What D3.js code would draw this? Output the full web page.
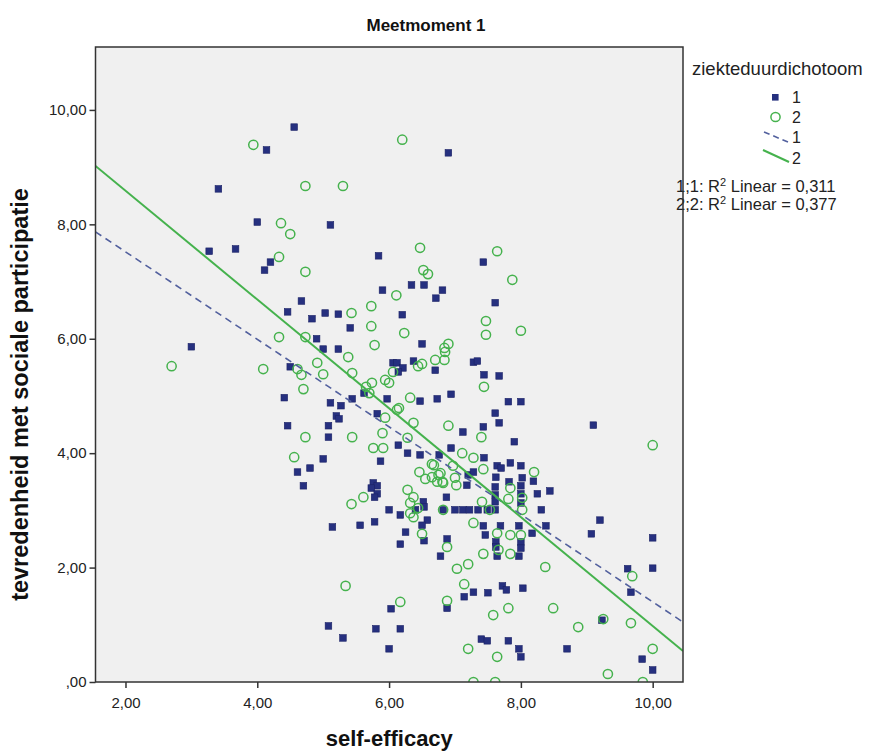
<!DOCTYPE html>
<html>
<head>
<meta charset="utf-8">
<script src="https://cdn.jsdelivr.net/npm/d3@7"></script>
<style>
  body { margin: 0; background: #fff; }
  svg { font-family: "Liberation Sans", Arial, sans-serif; }
</style>
</head>
<body>
<svg id="chart" width="874" height="751"></svg>
<script>
// ziekteduurdichotoom = 1 (blue squares)
const group1Points = [
  [4.56, 9.70], [4.14, 9.30], [6.90, 9.25], [3.41, 8.62], [4.00, 8.04], [5.11, 7.99],
  [3.27, 7.53], [3.67, 7.57], [4.20, 7.34], [4.11, 7.20], [5.84, 7.45], [5.90, 6.85],
  [7.43, 7.34], [4.67, 6.66], [4.46, 6.47], [5.03, 6.45], [5.23, 6.43], [4.83, 6.35],
  [5.41, 6.19], [4.90, 6.00], [3.00, 5.86], [5.00, 5.82], [5.23, 5.82], [6.34, 6.94],
  [6.53, 6.94], [6.81, 6.85], [6.71, 6.71], [7.61, 6.63], [6.20, 6.42], [6.50, 5.91],
  [4.50, 5.51], [6.06, 5.58], [5.62, 5.05], [4.41, 4.97], [5.11, 4.88], [5.27, 4.83],
  [5.44, 4.95], [5.97, 4.95], [5.20, 4.65], [5.24, 4.60], [5.82, 4.69], [4.46, 4.48],
  [5.08, 4.48], [5.08, 4.28], [5.00, 3.90], [5.87, 3.86], [4.80, 3.74], [4.61, 3.67],
  [4.70, 3.43], [5.76, 3.48], [5.82, 3.43], [5.73, 3.39], [5.82, 3.29], [5.78, 3.23],
  [6.00, 3.01], [5.14, 2.71], [5.56, 2.74], [5.78, 2.80], [6.03, 1.28], [5.08, 0.98],
  [5.30, 0.77], [5.80, 0.93], [6.00, 0.58], [6.37, 5.61], [6.12, 5.58], [6.21, 5.49],
  [6.14, 5.42], [6.70, 5.45], [7.28, 5.59], [7.34, 5.61], [7.44, 5.37], [7.67, 5.35],
  [6.94, 5.03], [6.47, 4.91], [6.73, 4.95], [7.81, 4.90], [8.00, 4.90], [7.61, 4.70],
  [7.67, 4.53], [7.43, 4.46], [7.12, 4.37], [7.90, 4.20], [9.10, 4.49], [6.14, 4.14],
  [6.28, 4.00], [6.47, 3.97], [6.94, 4.09], [6.76, 3.97], [7.44, 3.92], [7.64, 3.78],
  [7.70, 3.74], [7.84, 3.83], [8.00, 3.78], [7.20, 3.62], [7.28, 3.67], [7.18, 3.44],
  [7.62, 3.58], [7.61, 3.41], [7.82, 3.50], [8.02, 3.57], [8.00, 3.43], [8.19, 3.51],
  [8.44, 3.34], [8.25, 3.29], [7.61, 3.27], [8.00, 3.29], [6.87, 3.23], [7.61, 3.15],
  [8.00, 3.13], [6.52, 3.15], [6.53, 3.06], [6.40, 3.01], [6.17, 2.92], [6.82, 3.01],
  [7.00, 3.01], [7.12, 3.01], [7.22, 3.01], [7.35, 3.01], [7.49, 3.01], [7.61, 3.01],
  [8.31, 3.01], [7.43, 2.73], [7.69, 2.73], [7.97, 2.73], [7.46, 2.57], [8.17, 2.60],
  [8.38, 2.73], [6.58, 2.83], [6.50, 2.74], [6.25, 2.62], [6.17, 2.41], [6.53, 2.47],
  [6.88, 2.50], [7.62, 2.45], [7.62, 2.36], [8.00, 2.45], [8.00, 2.34], [7.97, 2.20],
  [6.78, 2.20], [7.64, 2.20], [9.20, 2.83], [9.07, 2.59], [10.00, 2.52], [10.00, 1.99],
  [9.62, 1.98], [9.67, 1.57], [6.88, 1.29], [7.14, 1.49], [7.28, 1.57], [7.50, 1.56],
  [7.72, 1.68], [7.78, 1.61], [8.03, 1.64], [6.17, 0.93], [9.23, 1.08], [7.40, 0.75],
  [7.49, 0.72], [7.81, 0.72], [7.97, 0.58], [8.00, 0.44], [8.70, 0.58], [9.84, 0.40],
  [10.00, 0.21]
];

// ziekteduurdichotoom = 2 (green circles)
const group2Points = [
  [3.94, 9.39], [6.20, 9.48], [4.73, 8.67], [5.30, 8.67], [4.36, 8.02], [4.50, 7.83],
  [4.33, 7.43], [4.73, 7.17], [6.47, 7.59], [7.64, 7.53], [6.52, 7.20], [6.59, 7.13],
  [7.87, 7.03], [6.11, 6.76], [5.73, 6.57], [5.43, 6.45], [5.73, 6.22], [7.47, 6.31],
  [7.47, 6.07], [8.00, 6.14], [6.23, 6.10], [4.33, 6.03], [4.73, 6.03], [5.78, 5.89],
  [6.90, 5.91], [6.84, 5.84], [2.70, 5.52], [4.09, 5.47], [4.61, 5.47], [4.67, 5.37],
  [5.38, 5.68], [4.91, 5.58], [5.00, 5.38], [5.44, 5.40], [4.70, 5.12], [5.74, 5.23],
  [5.65, 5.16], [5.70, 5.05], [5.94, 5.28], [6.00, 5.23], [6.06, 5.42], [6.44, 5.52],
  [6.50, 5.56], [6.85, 5.77], [6.84, 5.63], [6.70, 5.63], [6.32, 4.97], [6.12, 4.76],
  [6.15, 4.79], [5.94, 4.62], [5.90, 4.35], [6.37, 4.53], [6.28, 4.27], [4.73, 4.28],
  [5.44, 4.28], [5.76, 4.09], [5.91, 4.09], [4.56, 3.93], [5.61, 3.23], [5.43, 3.11],
  [5.34, 1.68], [6.90, 4.48], [7.40, 4.28], [7.44, 5.16], [7.11, 4.00], [7.28, 3.92],
  [7.43, 3.72], [6.97, 3.78], [6.65, 3.81], [6.75, 3.62], [6.81, 3.50], [6.55, 3.55],
  [7.00, 3.57], [8.20, 3.67], [6.46, 3.67], [6.65, 3.58], [6.78, 3.65], [6.73, 3.50],
  [6.82, 3.48], [6.68, 3.79], [7.02, 3.44], [7.84, 3.39], [7.81, 3.20], [8.02, 3.22],
  [7.41, 3.15], [6.82, 3.01], [7.53, 3.01], [8.02, 3.01], [6.28, 3.36], [6.37, 3.23],
  [6.32, 3.13], [6.44, 3.04], [6.32, 2.95], [6.37, 2.88], [7.28, 2.78], [7.64, 2.60],
  [7.84, 2.57], [8.00, 2.57], [6.50, 2.59], [6.88, 2.36], [7.66, 2.31], [7.84, 2.24],
  [7.43, 2.24], [8.37, 2.01], [7.20, 2.06], [7.03, 1.98], [7.14, 1.71], [6.88, 1.42],
  [6.17, 1.40], [7.81, 1.29], [7.58, 1.17], [8.49, 1.29], [9.69, 1.85], [9.67, 1.03],
  [9.25, 1.10], [8.87, 0.96], [7.20, 0.58], [7.64, 0.44], [10.00, 0.58], [9.32, 0.14],
  [7.28, 0.00], [7.61, 0.00], [9.85, 0.00], [10.00, 4.14]
];

// linear fit per group
const groups = ["1", "2"];
const fitIntercept = [9.05, 10.49];
const fitSlope = [-0.765, -0.951];
const rSquared = ["0,311", "0,377"];

const xTicks = [2, 4, 6, 8, 10];
const yTicks = [0, 2, 4, 6, 8, 10];

const margin = { left: 95.5, right: 683, top: 47, bottom: 682 };
const xDomain = [1.545, 10.46];
const yDomain = [0, 11.1];

const blue = "#26307f";
const green = "#45b24d";
const dashBlue = "#52609e";

const svg = d3.select("#chart");

const x = d3.scaleLinear().domain(xDomain).range([margin.left, margin.right]);
const y = d3.scaleLinear().domain(yDomain).range([margin.bottom, margin.top]);

const fmt = (v) => {
  let s = d3.format(".2f")(v).replace(".", ",");
  if (s.startsWith("0,")) s = s.slice(1);
  return s;
};

// plot background
svg.append("rect")
   .attr("x", margin.left)
   .attr("y", margin.top)
   .attr("width", margin.right - margin.left)
   .attr("height", margin.bottom - margin.top)
   .attr("fill", "#f0f0f0");

// R2 texts sit partly behind the frame
const r2 = svg.append("g")
              .attr("font-size", "16.5px")
              .attr("fill", "#222");
r2.selectAll("text")
  .data(groups)
  .enter()
  .append("text")
  .attr("x", 676)
  .attr("y", (d, i) => 192 + i * 17.5)
  .each(function (d, i) {
    const t = d3.select(this);
    t.append("tspan").text(`${d};${d}: R`);
    t.append("tspan").attr("dy", -6).attr("font-size", "11px").text("2");
    t.append("tspan").attr("dy", 6).text(` Linear = ${rSquared[i]}`);
  });

const clip = svg.append("clipPath").attr("id", "plotclip");
clip.append("rect")
    .attr("x", margin.left)
    .attr("y", margin.top)
    .attr("width", margin.right - margin.left)
    .attr("height", margin.bottom - margin.top);

const plot = svg.append("g").attr("clip-path", "url(#plotclip)");

// blue squares
plot.append("g")
    .selectAll("rect")
    .data(group1Points)
    .enter()
    .append("rect")
    .attr("x", (d) => x(d[0]) - 3.3)
    .attr("y", (d) => y(d[1]) - 3.3)
    .attr("width", 6.6)
    .attr("height", 6.6)
    .attr("fill", blue)
    .attr("stroke", "#1b2266")
    .attr("stroke-width", 0.6);

// green circles
plot.append("g")
    .selectAll("circle")
    .data(group2Points)
    .enter()
    .append("circle")
    .attr("cx", (d) => x(d[0]))
    .attr("cy", (d) => y(d[1]))
    .attr("r", 4.6)
    .attr("fill", "none")
    .attr("stroke", green)
    .attr("stroke-width", 1.5);

// fit lines
const line = d3.line().x((d) => x(d[0])).y((d) => y(d[1]));
groups.forEach((g, i) => {
  const pts = xDomain.map((v) => [v, fitIntercept[i] + fitSlope[i] * v]);
  plot.append("path")
      .attr("d", line(pts))
      .attr("fill", "none")
      .attr("stroke", i === 0 ? dashBlue : green)
      .attr("stroke-width", i === 0 ? 1.6 : 2)
      .attr("stroke-dasharray", i === 0 ? "7,5" : null);
});

// frame
svg.append("rect")
   .attr("x", margin.left)
   .attr("y", margin.top)
   .attr("width", margin.right - margin.left)
   .attr("height", margin.bottom - margin.top)
   .attr("fill", "none")
   .attr("stroke", "#333")
   .attr("stroke-width", 1.5);

// axes
const xAxis = svg.append("g")
                 .attr("transform", `translate(0,${margin.bottom})`)
                 .call(d3.axisBottom(x).tickValues(xTicks).tickFormat(fmt).tickSizeInner(6).tickSizeOuter(0).tickPadding(9));
const yAxis = svg.append("g")
                 .attr("transform", `translate(${margin.left},0)`)
                 .call(d3.axisLeft(y).tickValues(yTicks).tickFormat(fmt).tickSizeInner(6).tickSizeOuter(0).tickPadding(3));
[xAxis, yAxis].forEach((a) => {
  a.select(".domain").remove();
  a.selectAll(".tick line").attr("stroke", "#333").attr("stroke-width", 1.5);
  a.selectAll(".tick text")
   .attr("fill", "#222")
   .attr("font-size", "15px")
   .attr("font-family", "'Liberation Sans', Arial, sans-serif");
});

// titles
svg.append("text")
   .attr("x", 426)
   .attr("y", 31)
   .attr("text-anchor", "middle")
   .attr("font-size", "17px")
   .attr("font-weight", "bold")
   .attr("fill", "#111")
   .text("Meetmoment 1");

svg.append("text")
   .attr("x", (margin.left + margin.right) / 2)
   .attr("y", 746)
   .attr("text-anchor", "middle")
   .attr("font-size", "22px")
   .attr("font-weight", "bold")
   .attr("fill", "#111")
   .text("self-efficacy");

svg.append("text")
   .attr("transform", `translate(28,${(margin.top + margin.bottom) / 2 + 30}) rotate(-90)`)
   .attr("text-anchor", "middle")
   .attr("font-size", "23.5px")
   .attr("font-weight", "bold")
   .attr("fill", "#111")
   .text("tevredenheid met sociale participatie");

// legend
const legend = svg.append("g").attr("fill", "#222");
legend.append("text")
      .attr("x", 692)
      .attr("y", 75)
      .attr("font-size", "18.5px")
      .text("ziekteduurdichotoom");

legend.append("rect")
      .attr("x", 772).attr("y", 94).attr("width", 6.6).attr("height", 6.6)
      .attr("fill", blue);
legend.append("circle")
      .attr("cx", 775.5).attr("cy", 117).attr("r", 4.6)
      .attr("fill", "none").attr("stroke", green).attr("stroke-width", 1.5);
legend.append("line")
      .attr("x1", 764).attr("y1", 132).attr("x2", 788).attr("y2", 142)
      .attr("stroke", dashBlue).attr("stroke-width", 1.6).attr("stroke-dasharray", "6,4");
legend.append("line")
      .attr("x1", 763).attr("y1", 150).attr("x2", 789).attr("y2", 162)
      .attr("stroke", green).attr("stroke-width", 2);

legend.selectAll(".lab")
      .data(["1", "2", "1", "2"])
      .enter()
      .append("text")
      .attr("class", "lab")
      .attr("x", 792)
      .attr("y", (d, i) => [103, 123, 143, 164][i])
      .attr("font-size", "16px")
      .text((d) => d);
</script>
</body>
</html>
